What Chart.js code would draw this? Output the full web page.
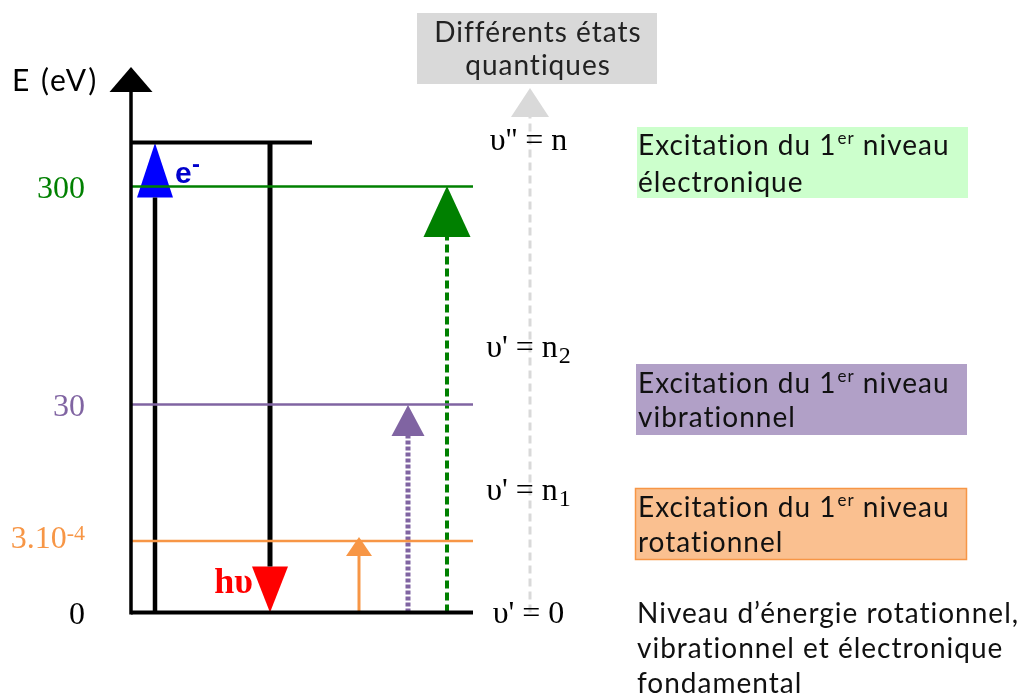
<!DOCTYPE html>
<html lang="fr">
<head>
<meta charset="utf-8">
<title>Niveaux d'énergie</title>
<script src="https://cdn.jsdelivr.net/npm/chart.js@4.4.1/dist/chart.umd.min.js"></script>
<style>
  html, body { margin: 0; padding: 0; background: #fff; }
  #wrap { width: 1024px; height: 697px; position: relative; }
</style>
</head>
<body>
<div id="wrap"><canvas id="levels"></canvas></div>
<script>
// schematic heights (not to scale): 1 unit = 10 px above the ground level
const energyLabels = ['0', '3.10', '30', '300'];
const energyExp = ['', '-4', '', ''];
const levelHeights = [0, 7.15, 20.8, 42.6, 47.0];
const levelEnds = [47.3, 47.3, 47.3, 47.3, 31.2];
const levelColors = ['#000000', '#f79646', '#8064a2', '#008000', '#000000'];
const levelWidths = [4, 2.5, 2.5, 2.5, 4];

const stateLabels = ["υ' = 0", "υ' = n", "υ' = n", "υ'' = n"];
const stateSubs = ['', '1', '2', ''];
const stateHeights = [0, 12.25, 26.55, 47.25];

// transitions: e-, hv, rotation, vibration, electronic, quantum states
const arrowX = [15.5, 27.0, 35.9, 40.8, 44.7, 53.0];
const arrowFrom = [0, 47.0, 0, 0, 0, 0];
const arrowTo = [46.95, 0, 7.55, 20.75, 42.65, 52.45];
const headLen = [5.45, 4.6, 1.9, 3.1, 5.1, 2.9];
const headHalf = [1.8, 1.8, 1.3, 1.65, 2.35, 1.9];
const headColors = ['#0000ff', '#ff0000', '#f79646', '#8064a2', '#008000', '#d9d9d9'];
const shaftColors = ['#000000', '#000000', '#f79646', '#8064a2', '#008000', '#d9d9d9'];
const shaftWidths = [4.5, 5, 3, 5, 4, 3];
const shaftDash = [[], [], [], [4, 2], [8, 4], [8, 5]];

const axisX = 13.1;
const axisTop = 54.55;
const axisHead = [2.5, 2.15];

const line = (pts, color, width, dash) => ({
    data: pts, showLine: true, borderColor: color, borderWidth: width,
    borderDash: dash || [], borderCapStyle: 'butt', pointRadius: 0, fill: false, tension: 0
});
const head = (x, tip, len, half, color, dir) => ({
    data: [{x: x - half, y: tip - dir * len}, {x, y: tip}, {x: x + half, y: tip - dir * len}, {x: x - half, y: tip - dir * len}],
    showLine: true, borderWidth: 0, borderColor: color, backgroundColor: color,
    pointRadius: 0, fill: 'shape', tension: 0
});

const datasets = [];
// gray "quantum states" arrow sits behind everything
{
    const i = 5;
    datasets.push(line([{x: arrowX[i], y: arrowFrom[i]}, {x: arrowX[i], y: arrowTo[i] - headLen[i]}], shaftColors[i], shaftWidths[i], shaftDash[i]));
    datasets.push(head(arrowX[i], arrowTo[i], headLen[i], headHalf[i], headColors[i], 1));
}
// energy axis
datasets.push(line([{x: axisX, y: -0.2}, {x: axisX, y: axisTop - axisHead[0]}], '#000', 3.5));
datasets.push(head(axisX, axisTop, axisHead[0], axisHead[1], '#000', 1));
// levels
levelHeights.forEach((h, i) => {
    datasets.push(line([{x: axisX, y: h}, {x: levelEnds[i], y: h}], levelColors[i], levelWidths[i]));
});
// transitions
for (let i = 0; i < 5; i++) {
    const dir = arrowTo[i] > arrowFrom[i] ? 1 : -1;
    datasets.push(line([{x: arrowX[i], y: arrowFrom[i]}, {x: arrowX[i], y: arrowTo[i] - dir * headLen[i]}], shaftColors[i], shaftWidths[i], shaftDash[i]));
    datasets.push(head(arrowX[i], arrowTo[i], headLen[i], headHalf[i], headColors[i], dir));
}

const SANS = 'Lato, "Open Sans", sans-serif';
const SERIF = '"Liberation Serif", "DejaVu Serif", serif';

function richLine(ctx, parts, x, y, size) {
    let cx = x;
    parts.forEach(p => {
        if (p.sup) {
            ctx.font = Math.round(size * 0.62) + 'px ' + SANS;
            ctx.fillText(p.t, cx + 1, y - size * 0.38);
            cx += ctx.measureText(p.t).width + 1;
        } else {
            ctx.font = size + 'px ' + SANS;
            ctx.fillText(p.t, cx, y);
            cx += ctx.measureText(p.t).width;
        }
    });
}

const notes = [
    {box: [637, 127, 331, 71], fill: '#ccffcc', stroke: null, level: 'électronique', base: [155, 192]},
    {box: [636, 364, 331, 71], fill: '#b1a0c7', stroke: null, level: 'vibrationnel', base: [393, 427]},
    {box: [635, 488, 332, 72], fill: '#fac090', stroke: '#f79646', level: 'rotationnel', base: [517, 552]}
];

const textPlugin = {
    id: 'texts',
    afterDatasetsDraw(chart) {
        const {ctx} = chart;
        const xs = chart.scales.x, ys = chart.scales.y;
        ctx.save();
        ctx.textBaseline = 'alphabetic';

        // energy values on the axis
        energyLabels.forEach((t, i) => {
            const py = ys.getPixelForValue(levelHeights[i]);
            const right = xs.getPixelForValue(8.5);
            ctx.fillStyle = levelColors[i];
            ctx.textAlign = 'right';
            if (energyExp[i]) {
                ctx.font = '22px ' + SERIF;
                const w = ctx.measureText(energyExp[i]).width;
                ctx.fillText(energyExp[i], right, py - 1);
                ctx.font = '32px ' + SERIF;
                ctx.fillText(t, right - w, py + 7);
            } else {
                ctx.font = '32px ' + SERIF;
                ctx.fillText(t, right, py + 11);
            }
        });

        // quantum state labels, centred on the gray arrow
        stateLabels.forEach((t, i) => {
            const py = ys.getPixelForValue(stateHeights[i]) + 10;
            ctx.font = '32px ' + SERIF;
            const w1 = ctx.measureText(t).width;
            ctx.font = '24px ' + SERIF;
            const w2 = stateSubs[i] ? ctx.measureText(stateSubs[i]).width + 1 : 0;
            const left = xs.getPixelForValue(52.85) - (w1 + w2) / 2;
            ctx.fillStyle = '#000';
            ctx.textAlign = 'left';
            ctx.font = '32px ' + SERIF;
            ctx.fillText(t, left, py);
            if (stateSubs[i]) {
                ctx.font = '24px ' + SERIF;
                ctx.fillText(stateSubs[i], left + w1 + 1, py + 6);
            }
        });

        // e- and hv next to the black arrows
        ctx.fillStyle = '#0000cc';
        ctx.font = 'bold 30px "Liberation Sans", sans-serif';
        const ex = xs.getPixelForValue(arrowX[0]) + 20;
        ctx.fillText('e', ex, 183);
        ctx.font = 'bold 24px "Liberation Sans", sans-serif';
        ctx.fillText('-', ex + 17, 172);

        ctx.fillStyle = '#ff0000';
        ctx.textAlign = 'right';
        ctx.font = 'bold 36px ' + SERIF;
        ctx.fillText('hυ', xs.getPixelForValue(arrowX[1]) - 17, 593);

        // sans-serif texts: a little tracking, which also keeps Lato from using ligatures
        ctx.letterSpacing = '1px';

        // axis title
        ctx.fillStyle = '#000';
        ctx.textAlign = 'left';
        ctx.font = '30px ' + SANS;
        ctx.letterSpacing = '2px';
        ctx.fillText('E (eV)', 12, 91);
        ctx.letterSpacing = '1px';

        // title box above the gray arrow
        ctx.fillStyle = '#d9d9d9';
        ctx.fillRect(417, 13, 240, 71);
        ctx.fillStyle = '#222';
        ctx.textAlign = 'center';
        ctx.font = '28px ' + SANS;
        ctx.fillText('Différents états', 538, 42);
        ctx.fillText('quantiques', 538, 75);

        // side notes
        ctx.textAlign = 'left';
        notes.forEach(n => {
            ctx.fillStyle = n.fill;
            ctx.fillRect(...n.box);
            if (n.stroke) {
                ctx.strokeStyle = n.stroke;
                ctx.lineWidth = 1.5;
                ctx.strokeRect(n.box[0] + 0.5, n.box[1] + 0.5, n.box[2] - 1, n.box[3] - 1);
            }
            ctx.fillStyle = '#111';
            richLine(ctx, [{t: 'Excitation du 1'}, {t: 'er', sup: true}, {t: ' niveau'}], 638, n.base[0], 28);
            richLine(ctx, [{t: n.level}], 638, n.base[1], 28);
        });
        ctx.fillStyle = '#111';
        ['Niveau d’énergie rotationnel,', 'vibrationnel et électronique', 'fondamental'].forEach((t, i) => {
            richLine(ctx, [{t}], 637, 623 + i * 35, 28);
        });
        ctx.restore();
    }
};

new Chart(document.getElementById('levels'), {
    type: 'scatter',
    data: { datasets },
    options: {
        responsive: true,
        maintainAspectRatio: false,
        animation: false,
        events: [],
        layout: { padding: 0 },
        plugins: { legend: { display: false }, tooltip: { enabled: false } },
        scales: {
            x: { type: 'linear', display: false, min: 0, max: 102.4 },
            y: { type: 'linear', display: false, min: -8.45, max: 61.25 }
        }
    },
    plugins: [textPlugin]
});
</script>
</body>
</html>
